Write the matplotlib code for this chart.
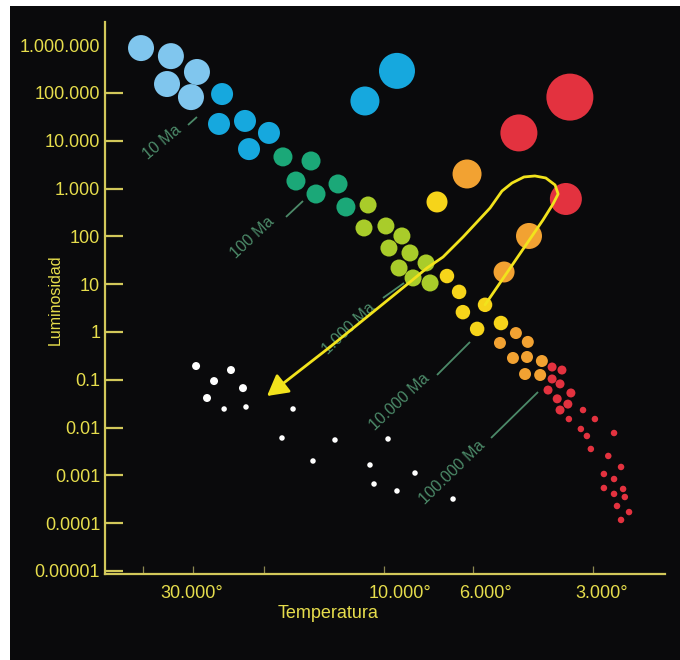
import matplotlib
matplotlib.use('Agg')
import matplotlib.pyplot as plt
from matplotlib.patches import Rectangle
from matplotlib.transforms import ScaledTranslation

plt.rcParams['font.family'] = ['Liberation Sans', 'DejaVu Sans']

# ---------------- data: temperature (K) and luminosity (L_sun) ----------------
lightblue_T = [40500, 34100, 29350, 34870, 30380]
lightblue_L = [8.7e5, 5.9e5, 2.75e5, 1.54e5, 8.2e4]
blue_T = [25400, 25850, 22260, 19390, 21750]
blue_L = [9.5e4, 2.25e4, 2.6e4, 1.46e4, 6700]
green_T = [17890, 15220, 16600, 14790, 13030, 12450]
green_L = [4600, 3780, 1440, 770, 1250, 412]
lime_T = [10960, 11220, 9890, 9020, 9720, 8610, 9170, 7850, 8460, 7670]
lime_L = [454, 150, 165, 102, 57, 45, 21.8, 27.8, 13.5, 10.6]
yellow_T = [6960, 6490, 6350, 5590, 5850, 5100]
yellow_L = [14.8, 6.9, 2.6, 3.7, 1.16, 1.54]
orange_T = [4680, 5130, 4370, 4760, 4390, 4030, 4440, 4070]
orange_L = [0.95, 0.59, 0.62, 0.286, 0.30, 0.247, 0.132, 0.126]
red_T = [3800, 3590, 3800, 3630, 3890, 3410, 3690, 3470, 3630]
red_L = [0.185, 0.160, 0.104, 0.082, 0.061, 0.053, 0.040, 0.031, 0.0233]
reddwarf_T = [3180, 3450, 2970, 3220, 3110, 2660, 3040, 2750, 2555, 2820,
              2660, 2820, 2525, 2660, 2500, 2615, 2440, 2555]
reddwarf_L = [0.0233, 0.0151, 0.0151, 0.00935, 0.00667, 0.0077, 0.00357,
              0.00255, 0.0015, 0.00107, 0.00084, 0.000545, 0.00052, 0.00041,
              0.000353, 0.000229, 0.000171, 0.000117]
wd_big_T = [29500, 24130, 26600, 22520, 27700]
wd_big_L = [0.194, 0.160, 0.094, 0.067, 0.0416]
wd_small_T = [25100, 22130, 16880, 17990, 13260, 9770, 15050, 10840, 8365,
              10590, 9280, 6720]
wd_small_L = [0.0245, 0.027, 0.0245, 0.00606, 0.0055, 0.00578, 0.002,
              0.00165, 0.00112, 0.00066, 0.000472, 0.00032]
giants_T = [11160, 9280, 3430, 4600, 3510, 6200, 7370, 4340, 5010]
giants_L = [6.8e4, 2.9e5, 8.2e4, 1.46e4, 606, 2020, 525, 102, 18]

track_T = [5590, 4005, 3780, 3670, 3735, 3940, 4195, 4467, 4786, 5070, 5430,
           6345, 7120, 7810, 8610, 13650, 19610]
track_L = [3.7, 220, 476, 771, 1190, 1667, 1837, 1750, 1310, 890, 393, 97,
           37, 21.8, 11.1, 0.485, 0.0458]

iso_labels = ['10 Ma', '100 Ma', '1.000 Ma', '10.000 Ma', '100.000 Ma']
iso_text_T = [35900, 21380, 12230, 9120, 6760]
iso_text_L = [9440, 97, 1.16, 0.0343, 0.00118]
iso_tick_T0 = [30900, 17580, 10060, 7370, 5400]
iso_tick_L0 = [21400, 255, 5.15, 0.126, 0.00606]
iso_tick_T1 = [29350, 15940, 8910, 6095, 4120]
iso_tick_L1 = [31500, 550, 10.6, 0.618, 0.0556]

y_ticks = [1e-5, 1e-4, 1e-3, 1e-2, 1e-1, 1, 10, 100, 1e3, 1e4, 1e5, 1e6]
y_ticklabels = ['0.00001', '0.0001', '0.001', '0.01', '0.1', '1', '10', '100',
                '1.000', '10.000', '100.000', '1.000.000']
x_ticks = [40000, 30000, 20000, 10000, 6000, 3000]
x_ticklabels = ['', '30.000°', '', '10.000°', '6.000°', '3.000°']

# ---------------- styles ----------------
BG = '#0a0a0c'
AXC = '#d2c85a'
TXT = '#e6dd4c'
ISO = '#4c8a69'
TRACK = '#f2e31c'
C_LB, C_B, C_G = '#80c6ee', '#16a8de', '#1ba878'
C_LIME, C_Y, C_O, C_R = '#a9cc2a', '#f6d41a', '#f2a232', '#e3323f'
x_label_shift_px = [0, -1.5, 0, 16, 13, 9]


def s_px(d):
    return (0.72 * d) ** 2


W, H = 680, 660
fig = plt.figure(figsize=(W / 100, H / 100), dpi=100, facecolor='white')
fig.patches.append(Rectangle((10 / W, 0), 1 - 10 / W, 1 - 6 / H,
                             transform=fig.transFigure, facecolor=BG,
                             edgecolor='none', zorder=-10))

ax_l, ax_r, ax_t, ax_b = 105, 665, 22, 574
ax = fig.add_axes([ax_l / W, 1 - ax_b / H, (ax_r - ax_l) / W, (ax_b - ax_t) / H])
ax.set_zorder(1)
ax.set_facecolor('none')
ax.set_xscale('log')
ax.set_yscale('log')
ax.set_xlim(10 ** 4.6975, 10 ** 3.2975)
ax.set_ylim(10 ** -5.063, 10 ** 6.485)

groups = [
    (lightblue_T, lightblue_L, C_LB, 26),
    (blue_T, blue_L, C_B, 22),
    (green_T, green_L, C_G, 19),
    (lime_T, lime_L, C_LIME, 17),
    (yellow_T, yellow_L, C_Y, 14.5),
    (orange_T, orange_L, C_O, 12),
    (red_T, red_L, C_R, 9),
    (reddwarf_T, reddwarf_L, C_R, 6.5),
    (wd_big_T, wd_big_L, 'white', 8),
    (wd_small_T, wd_small_L, 'white', 5.5),
]
for T, L, c, d in groups:
    ax.scatter(T, L, s=s_px(d), c=c, edgecolors='none', zorder=3)

giant_colors = [C_B, C_B, C_R, C_R, C_R, C_O, C_Y, C_O, C_O]
giant_diam = [29, 36, 47, 37, 32, 29, 21, 26, 21]
ax.scatter(giants_T, giants_L, s=[s_px(d) for d in giant_diam],
           c=giant_colors, edgecolors='none', zorder=3)

# isochrone labels
iso_rot = [40, 43, 44, 43, 44]
for lab, tx, ty, x0, y0, x1, y1, r in zip(iso_labels, iso_text_T, iso_text_L,
                                          iso_tick_T0, iso_tick_L0,
                                          iso_tick_T1, iso_tick_L1, iso_rot):
    ax.text(tx, ty, lab, rotation=r, rotation_mode='anchor', ha='center',
            va='center', color=ISO, fontsize=11.5, zorder=2)
    ax.plot([x0, x1], [y0, y1], color=ISO, lw=1.3, zorder=2,
            solid_capstyle='butt')

# evolutionary track
ax.plot(track_T[:-1], track_L[:-1], color=TRACK, lw=2.0, zorder=5,
        solid_joinstyle='round', solid_capstyle='round')
ax.annotate('', xy=(track_T[-1], track_L[-1]),
            xytext=(track_T[-2], track_L[-2]),
            arrowprops=dict(arrowstyle='-|>,head_length=0.9,head_width=0.5',
                            mutation_scale=14, color=TRACK, lw=2.0,
                            shrinkA=0, shrinkB=0),
            zorder=5)

# axes styling
for side in ['top', 'right']:
    ax.spines[side].set_visible(False)
for side in ['left', 'bottom']:
    ax.spines[side].set_color(AXC)
    ax.spines[side].set_linewidth(1.6)

ax.set_yticks(y_ticks)
ax.set_yticklabels(y_ticklabels)
ax.set_xticks(x_ticks)
ax.set_xticklabels(x_ticklabels)
ax.minorticks_off()
ax.tick_params(axis='y', direction='in', length=13, width=1.6, color=AXC,
               labelcolor=TXT, labelsize=13, pad=3.5)
ax.tick_params(axis='x', direction='in', length=6, width=0.9, color='#8a8650',
               labelcolor=TXT, labelsize=13, pad=8)
ax.yaxis.get_major_ticks()[-1].tick1line.set_visible(False)
for lbl, dx in zip(ax.get_xticklabels(), x_label_shift_px):
    lbl.set_transform(lbl.get_transform() +
                      ScaledTranslation(dx / 100, 0, fig.dpi_scale_trans))

fig.text(55 / W, 1 - 300 / H, 'Luminosidad', rotation=90, ha='center',
         va='center', color=TXT, fontsize=11.5)
fig.text(328 / W, 1 - 613 / H, 'Temperatura', ha='center', va='center',
         color=TXT, fontsize=13)

fig.savefig('out.png', dpi=100, facecolor=fig.get_facecolor())
